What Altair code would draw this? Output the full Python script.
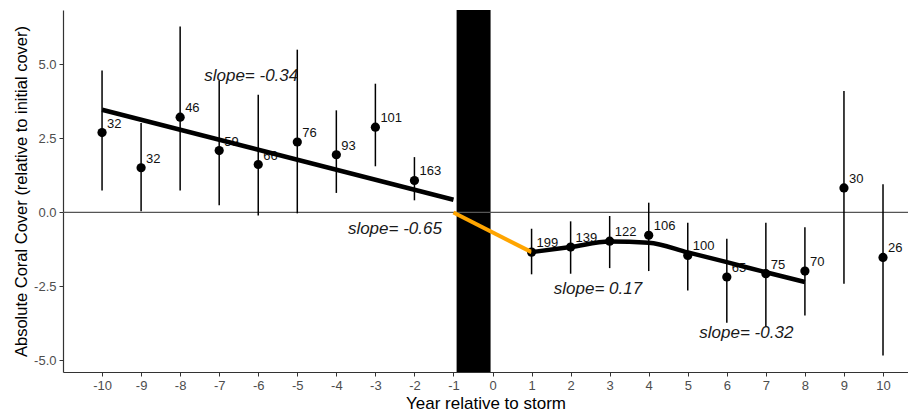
import altair as alt
import pandas as pd

# ---- data ----
years = [-10, -9, -8, -7, -6, -5, -4, -3, -2, 1, 2, 3, 4, 5, 6, 7, 8, 9, 10]
mean_cover = [2.70, 1.51, 3.22, 2.09, 1.62, 2.38, 1.95, 2.88, 1.08,
              -1.34, -1.17, -0.97, -0.77, -1.45, -2.18, -2.07, -1.98, 0.83, -1.52]
lower = [0.74, 0.04, 0.74, 0.24, -0.10, -0.03, 0.66, 1.56, 0.41,
         -2.09, -2.07, -1.88, -1.98, -2.64, -3.73, -3.87, -3.48, -2.41, -4.83]
upper = [4.80, 3.02, 6.28, 4.46, 3.98, 5.50, 3.45, 4.35, 1.87,
         -0.55, -0.30, -0.12, 0.33, -0.35, -0.89, -0.35, -0.50, 4.10, 0.95]
n_sites = [32, 32, 46, 59, 66, 76, 93, 101, 163, 199, 139, 122, 106, 100, 65, 75, 70, 30, 26]

pre_fit_x = [-10, -1]
pre_fit_y = [3.47, 0.43]
storm_fit_x = [-1, 1]
storm_fit_y = [0.0, -1.34]
post_fit_x = [1, 2, 3, 4, 5, 6, 7, 8]
post_fit_y = [-1.34, -1.17, -0.98, -1.02, -1.35, -1.68, -2.02, -2.35]

storm_band = [-0.92, -0.05]

slope_labels = ["slope= -0.34", "slope= -0.65", "slope= 0.17", "slope= -0.32"]
slope_x = [-6.18, -2.50, 2.70, 6.50]
slope_y = [4.62, -0.55, -2.58, -4.06]

x_ticks = list(range(-10, 11))
y_ticks = [-5.0, -2.5, 0.0, 2.5, 5.0]

# ---- tables ----
pts = pd.DataFrame({"year": years, "cover": mean_cover, "lo": lower, "hi": upper, "n": n_sites})
pre = pd.DataFrame({"year": pre_fit_x, "fit": pre_fit_y})
storm = pd.DataFrame({"year": storm_fit_x, "fit": storm_fit_y})
post = pd.DataFrame({"year": post_fit_x, "fit": post_fit_y})
slopes = pd.DataFrame({"label": slope_labels, "x": slope_x, "y": slope_y})
band = pd.DataFrame({"x1": [storm_band[0]], "x2": [storm_band[1]]})
zero = pd.DataFrame({"y": [0.0]})

W, H = 845, 362
xscale = alt.Scale(domain=[-11, 10.64], nice=False, zero=False)
yscale = alt.Scale(domain=[-5.39, 6.84], nice=False, zero=False)

x_axis = alt.Axis(values=x_ticks, title="Year relative to storm", grid=False,
                  labelExpr="toString(datum.value)",
                  labelFontSize=13, labelColor="#4D4D4D", tickColor="#333333", tickSize=4,
                  domainColor="#333333", domainWidth=1.2, titleFontSize=17, titleColor="#000000",
                  titleFontWeight="normal", labelPadding=3, titlePadding=3)
y_axis = alt.Axis(values=y_ticks, title="Absolute Coral Cover (relative to initial cover)",
                  labelExpr="replace(format(datum.value, '.1f'), '\u2212', '-')",
                  grid=False, labelFontSize=13, labelColor="#4D4D4D", tickColor="#333333", tickSize=4,
                  domainColor="#333333", domainWidth=1.2, titleFontSize=16.5, titleColor="#000000",
                  titleFontWeight="normal", labelPadding=3, titlePadding=4)

X = alt.X("year:Q", scale=xscale, axis=x_axis)
Y = alt.Y("cover:Q", scale=yscale, axis=y_axis)

band_layer = alt.Chart(band).mark_rect(color="black").encode(
    x=alt.X("x1:Q", scale=xscale, axis=x_axis), x2="x2:Q",
    y=alt.value(0), y2=alt.value(H))

zero_layer = alt.Chart(zero).mark_rule(color="#555555", strokeWidth=1.2).encode(
    y=alt.Y("y:Q", scale=yscale, axis=y_axis))

err_layer = alt.Chart(pts).mark_rule(color="black", strokeWidth=1.5).encode(
    x=X, y=alt.Y("lo:Q", scale=yscale, axis=y_axis), y2="hi:Q")

pt_layer = alt.Chart(pts).mark_circle(color="black", opacity=1, size=85).encode(x=X, y=Y)

lab_layer = alt.Chart(pts).mark_text(align="left", baseline="middle", dx=5, dy=-9,
                                     fontSize=13, color="#111111", font="Liberation Sans").encode(
    x=X, y=Y, text="n:Q")

pre_layer = alt.Chart(pre).mark_line(color="black", strokeWidth=4.5).encode(
    x=X, y=alt.Y("fit:Q", scale=yscale, axis=y_axis))
storm_layer = alt.Chart(storm).mark_line(color="#FFA500", strokeWidth=4).encode(
    x=X, y=alt.Y("fit:Q", scale=yscale, axis=y_axis))
post_layer = alt.Chart(post).mark_line(color="black", strokeWidth=4.5, interpolate="monotone").encode(
    x=X, y=alt.Y("fit:Q", scale=yscale, axis=y_axis))

slope_layer = alt.Chart(slopes).mark_text(fontSize=17, fontStyle="italic", color="#1a1a1a",
                                          font="Liberation Sans", baseline="middle", align="center").encode(
    x=alt.X("x:Q", scale=xscale, axis=x_axis), y=alt.Y("y:Q", scale=yscale, axis=y_axis), text="label:N")

chart = alt.layer(band_layer, zero_layer, err_layer, pt_layer, lab_layer,
                  pre_layer, storm_layer, post_layer, slope_layer).properties(
    width=W, height=H,
    autosize=alt.AutoSizeParams(type="none"),
    padding={"left": 55, "top": 2, "right": 0, "bottom": 40},
).configure_view(stroke=None).configure_axis(labelFont="Liberation Sans", titleFont="Liberation Sans")

chart.save("out.html", embed_options={"renderer": "svg", "actions": False})
